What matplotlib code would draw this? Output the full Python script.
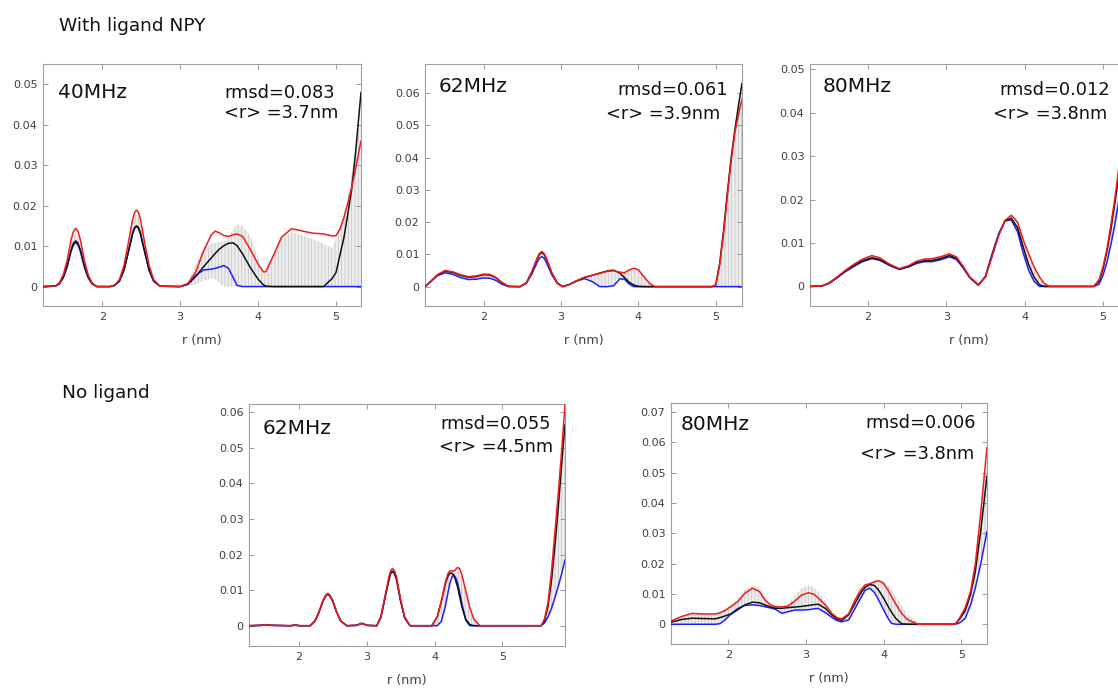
import matplotlib
matplotlib.use("Agg")
import matplotlib.pyplot as plt
from matplotlib.ticker import FuncFormatter

W, H = 1118, 689

# ---------------- with ligand NPY, 40 MHz ----------------
w40_r = [1.24, 1.40, 1.45, 1.50, 1.55, 1.60, 1.63, 1.66, 1.69, 1.72, 1.77, 1.82, 1.87, 1.93,
         2.10, 2.16, 2.22, 2.28, 2.34, 2.39, 2.415, 2.44, 2.465, 2.49, 2.54, 2.60, 2.66, 2.74,
         3.00, 3.10, 3.20, 3.30, 3.40, 3.45, 3.50, 3.56, 3.62, 3.68, 3.73, 3.80,
         3.90, 4.00, 4.07, 4.10, 4.20, 4.30, 4.43, 4.55, 4.70, 4.84, 4.95, 5.00,
         5.05, 5.10, 5.15, 5.20, 5.25, 5.32]
w40_red = [0.0, 0.0002, 0.0009, 0.0029, 0.0065, 0.0115, 0.0136, 0.0144, 0.0136, 0.0115, 0.0065, 0.0029, 0.0009, 0.0,
           0.0, 0.0004, 0.0017, 0.0053, 0.0113, 0.0166, 0.0183, 0.0189, 0.0183, 0.0166, 0.0113, 0.0053, 0.0017, 0.0001,
           0.0, 0.0008, 0.0036, 0.0088, 0.0128, 0.0137, 0.0133, 0.0126, 0.0124, 0.0128, 0.0130, 0.0124,
           0.0092, 0.0055, 0.0036, 0.0037, 0.0078, 0.0122, 0.0143, 0.0138, 0.0132, 0.0130, 0.0125, 0.0126,
           0.0142, 0.0170, 0.0205, 0.0245, 0.0290, 0.0360]
w40_black = [0.0, 0.0002, 0.0007, 0.0023, 0.0051, 0.0090, 0.0107, 0.0113, 0.0107, 0.0090, 0.0051, 0.0023, 0.0007, 0.0,
             0.0, 0.0003, 0.0014, 0.0042, 0.0090, 0.0132, 0.0146, 0.0150, 0.0146, 0.0132, 0.0090, 0.0042, 0.0014, 0.0001,
             0.0, 0.0006, 0.0025, 0.0049, 0.0071, 0.0082, 0.0092, 0.0101, 0.0107, 0.0108, 0.0101, 0.0081,
             0.0047, 0.0018, 0.0004, 0.0001, 0.0, 0.0, 0.0, 0.0, 0.0, 0.0, 0.0020, 0.0035,
             0.0078, 0.0120, 0.0178, 0.0240, 0.0330, 0.0480]
w40_blue = [0.0, 0.0001, 0.0007, 0.0022, 0.0049, 0.0087, 0.0103, 0.0109, 0.0103, 0.0087, 0.0049, 0.0022, 0.0007, 0.0,
            0.0, 0.0003, 0.0013, 0.0041, 0.0089, 0.0130, 0.0144, 0.0148, 0.0144, 0.0130, 0.0089, 0.0041, 0.0013, 0.0001,
            0.0, 0.0006, 0.0028, 0.0041, 0.0043, 0.0045, 0.0048, 0.0052, 0.0045, 0.0022, 0.0003, 0.0,
            0.0, 0.0, 0.0, 0.0, 0.0, 0.0, 0.0, 0.0, 0.0, 0.0, 0.0, 0.0,
            0.0, 0.0, 0.0, 0.0, 0.0, 0.0]
w40_lo = [0.0, 0.0, 0.0005, 0.0018, 0.0042, 0.0080, 0.0095, 0.0100, 0.0095, 0.0080, 0.0042, 0.0018, 0.0005, 0.0,
          0.0, 0.0002, 0.0011, 0.0036, 0.0082, 0.0122, 0.0136, 0.0140, 0.0136, 0.0122, 0.0082, 0.0036, 0.0011, 0.0,
          0.0, 0.0002, 0.0005, 0.0015, 0.0020, 0.0018, 0.0010, 0.0, 0.0, 0.0, 0.0, 0.0,
          0.0, 0.0, 0.0, 0.0, 0.0, 0.0, 0.0, 0.0, 0.0, 0.0, 0.0, 0.0,
          0.0, 0.0, 0.0, 0.0, 0.0, 0.0]
w40_hi = [0.0, 0.0002, 0.0008, 0.0026, 0.0060, 0.0105, 0.0125, 0.0132, 0.0125, 0.0105, 0.0060, 0.0026, 0.0008, 0.0,
          0.0, 0.0004, 0.0016, 0.0050, 0.0105, 0.0155, 0.0173, 0.0178, 0.0173, 0.0155, 0.0105, 0.0050, 0.0016, 0.0001,
          0.0, 0.0010, 0.0055, 0.0095, 0.0105, 0.0108, 0.0110, 0.0112, 0.0120, 0.0142, 0.0153, 0.0150,
          0.0125, 0.0070, 0.0030, 0.0040, 0.0085, 0.0120, 0.0135, 0.0128, 0.0118, 0.0105, 0.0095, 0.0120,
          0.0145, 0.0180, 0.0220, 0.0280, 0.0340, 0.0420]

# ---------------- with ligand NPY, 62 MHz ----------------
w62_r = [1.24, 1.30, 1.40, 1.50, 1.60, 1.70, 1.80, 1.90, 2.00, 2.08, 2.16, 2.24,
         2.32, 2.47, 2.55, 2.62, 2.69, 2.72, 2.75, 2.78, 2.81, 2.88, 2.95, 3.02, 3.10, 3.20,
         3.30, 3.40, 3.50, 3.60, 3.68, 3.76, 3.82, 3.88, 3.94, 4.00, 4.08, 4.15,
         4.22, 4.95, 5.00, 5.05, 5.10, 5.15, 5.20, 5.25, 5.30, 5.34]
w62_red = [0.0, 0.0013, 0.0037, 0.0050, 0.0046, 0.0037, 0.0031, 0.0033, 0.0039, 0.0038, 0.0028, 0.0012,
           0.0001, 0.0, 0.0012, 0.0045, 0.0088, 0.0103, 0.0109, 0.0103, 0.0088, 0.0043, 0.0012, 0.0, 0.0006, 0.0018,
           0.0029, 0.0035, 0.0041, 0.0048, 0.0049, 0.0045, 0.0043, 0.0052, 0.0057, 0.0052, 0.0028, 0.0009,
           0.0, 0.0, 0.0005, 0.0065, 0.0160, 0.0280, 0.0390, 0.0480, 0.0540, 0.0580]
w62_black = [0.0, 0.0013, 0.0036, 0.0048, 0.0044, 0.0035, 0.0029, 0.0031, 0.0037, 0.0036, 0.0027, 0.0011,
             0.0001, 0.0, 0.0012, 0.0044, 0.0086, 0.0100, 0.0106, 0.0100, 0.0086, 0.0042, 0.0012, 0.0, 0.0006, 0.0018,
             0.0028, 0.0035, 0.0042, 0.0049, 0.0051, 0.0042, 0.0028, 0.0014, 0.0005, 0.0001, 0.0, 0.0,
             0.0, 0.0, 0.0005, 0.0070, 0.0170, 0.0290, 0.0400, 0.0490, 0.0570, 0.0630]
w62_blue = [0.0, 0.0012, 0.0034, 0.0043, 0.0038, 0.0028, 0.0022, 0.0023, 0.0027, 0.0026, 0.0019, 0.0007,
            0.0, 0.0, 0.0010, 0.0038, 0.0075, 0.0088, 0.0093, 0.0088, 0.0075, 0.0037, 0.0010, 0.0, 0.0006, 0.0017,
            0.0025, 0.0016, 0.0, 0.0, 0.0003, 0.0024, 0.0023, 0.0008, 0.0, 0.0, 0.0, 0.0,
            0.0, 0.0, 0.0, 0.0, 0.0, 0.0, 0.0, 0.0, 0.0, 0.0]
w62_hi = [0.0, 0.0013, 0.0037, 0.0050, 0.0046, 0.0037, 0.0031, 0.0033, 0.0039, 0.0038, 0.0028, 0.0012,
          0.0001, 0.0, 0.0012, 0.0045, 0.0088, 0.0103, 0.0109, 0.0103, 0.0088, 0.0043, 0.0012, 0.0, 0.0006, 0.0018,
          0.0029, 0.0035, 0.0042, 0.0049, 0.0051, 0.0045, 0.0043, 0.0052, 0.0057, 0.0052, 0.0028, 0.0009,
          0.0, 0.0, 0.0005, 0.0068, 0.0165, 0.0285, 0.0395, 0.0485, 0.0555, 0.0600]
w62_lo = w62_blue

# ---------------- with ligand NPY, 80 MHz ----------------
w80_r = [1.26, 1.41, 1.50, 1.60, 1.71, 1.82, 1.93, 2.05, 2.15, 2.28, 2.40, 2.52,
         2.62, 2.72, 2.82, 2.92, 3.04, 3.13, 3.21, 3.30, 3.41, 3.50, 3.59, 3.67,
         3.75, 3.83, 3.91, 3.98, 4.05, 4.12, 4.19, 4.25, 4.32, 4.88, 4.95, 5.00,
         5.05, 5.10, 5.15, 5.20, 5.25, 5.32]
w80_red = [0.0, 0.0001, 0.0008, 0.0021, 0.0037, 0.0051, 0.0063, 0.0071, 0.0066, 0.0051, 0.0041, 0.0048,
           0.0058, 0.0063, 0.0064, 0.0068, 0.0075, 0.0068, 0.0048, 0.0022, 0.0004, 0.0022, 0.0072, 0.0118,
           0.0152, 0.0164, 0.0148, 0.0108, 0.0076, 0.0045, 0.0022, 0.0007, 0.0, 0.0, 0.0015, 0.0045,
           0.0085, 0.0140, 0.0200, 0.0270, 0.0350, 0.0450]
w80_black = [0.0, 0.0001, 0.0007, 0.0020, 0.0035, 0.0048, 0.0059, 0.0066, 0.0062, 0.0049, 0.0040, 0.0046,
             0.0055, 0.0059, 0.0060, 0.0064, 0.0071, 0.0065, 0.0046, 0.0021, 0.0003, 0.0022, 0.0074, 0.0119,
             0.0151, 0.0157, 0.0135, 0.0092, 0.0051, 0.0022, 0.0004, 0.0, 0.0, 0.0, 0.0012, 0.0040,
             0.0080, 0.0130, 0.0190, 0.0250, 0.0320, 0.0410]
w80_blue = [0.0, 0.0001, 0.0007, 0.0019, 0.0034, 0.0046, 0.0057, 0.0064, 0.0060, 0.0048, 0.0039, 0.0045,
            0.0053, 0.0057, 0.0057, 0.0061, 0.0068, 0.0062, 0.0044, 0.0020, 0.0003, 0.0024, 0.0078, 0.0122,
            0.0151, 0.0153, 0.0126, 0.0078, 0.0038, 0.0012, 0.0, 0.0, 0.0, 0.0, 0.0005, 0.0025,
            0.0055, 0.0095, 0.0140, 0.0195, 0.0260, 0.0350]
w80_lo = w80_blue
w80_hi = w80_red

# ---------------- no ligand, 62 MHz ----------------
n62_r = [1.27, 1.45, 1.52, 1.60, 1.88, 1.95, 2.02, 2.17, 2.24, 2.30, 2.36, 2.40, 2.43, 2.46, 2.50,
         2.56, 2.62, 2.71, 2.85, 2.93, 3.01, 3.15, 3.21, 3.27, 3.33, 3.355, 3.38, 3.41, 3.44,
         3.50, 3.56, 3.64, 3.96, 4.04, 4.10, 4.16, 4.20, 4.23, 4.26, 4.28, 4.31, 4.34, 4.37, 4.40,
         4.46, 4.52, 4.58, 4.67, 5.57, 5.62, 5.67, 5.72, 5.77, 5.82, 5.87, 5.92]
n62_red = [0.0, 0.0001, 0.0003, 0.0001, 0.0, 0.0002, 0.0, 0.0, 0.0013, 0.0039, 0.0072, 0.0086, 0.0091, 0.0086, 0.0072,
           0.0039, 0.0013, 0.0, 0.0001, 0.0007, 0.0001, 0.0, 0.0025, 0.0082, 0.0138, 0.0155, 0.0161, 0.0155, 0.0138,
           0.0075, 0.0025, 0.0, 0.0, 0.0025, 0.0068, 0.0122, 0.0148, 0.0155, 0.0154, 0.0153, 0.0158, 0.0164, 0.0160, 0.0145,
           0.0098, 0.0050, 0.0018, 0.0, 0.0, 0.0020, 0.0065, 0.0150, 0.0260, 0.0370, 0.0490, 0.0620]
n62_black = [0.0, 0.0001, 0.0003, 0.0001, 0.0, 0.0002, 0.0, 0.0, 0.0013, 0.0038, 0.0070, 0.0084, 0.0089, 0.0084, 0.0070,
             0.0038, 0.0013, 0.0, 0.0001, 0.0007, 0.0001, 0.0, 0.0024, 0.0078, 0.0131, 0.0148, 0.0153, 0.0148, 0.0131,
             0.0071, 0.0023, 0.0, 0.0, 0.0025, 0.0068, 0.0118, 0.0140, 0.0148, 0.0147, 0.0143, 0.0128, 0.0108, 0.0082, 0.0055,
             0.0018, 0.0003, 0.0, 0.0, 0.0, 0.0015, 0.0055, 0.0125, 0.0220, 0.0330, 0.0450, 0.0565]
n62_blue = [0.0, 0.0001, 0.0002, 0.0001, 0.0, 0.0001, 0.0, 0.0, 0.0013, 0.0038, 0.0070, 0.0084, 0.0089, 0.0084, 0.0070,
            0.0038, 0.0013, 0.0, 0.0001, 0.0006, 0.0001, 0.0, 0.0023, 0.0077, 0.0130, 0.0147, 0.0152, 0.0147, 0.0130,
            0.0070, 0.0022, 0.0, 0.0, 0.0, 0.0012, 0.0055, 0.0095, 0.0122, 0.0138, 0.0142, 0.0136, 0.0120, 0.0094, 0.0065,
            0.0015, 0.0, 0.0, 0.0, 0.0, 0.0008, 0.0025, 0.0048, 0.0078, 0.0110, 0.0145, 0.0185]
n62_hi = [0.0, 0.0001, 0.0003, 0.0001, 0.0, 0.0002, 0.0, 0.0, 0.0013, 0.0039, 0.0072, 0.0086, 0.0091, 0.0086, 0.0072,
          0.0039, 0.0013, 0.0, 0.0001, 0.0007, 0.0001, 0.0, 0.0025, 0.0082, 0.0138, 0.0155, 0.0161, 0.0155, 0.0138,
          0.0075, 0.0025, 0.0, 0.0, 0.0025, 0.0068, 0.0122, 0.0145, 0.0152, 0.0151, 0.0150, 0.0155, 0.0160, 0.0156, 0.0142,
          0.0095, 0.0048, 0.0016, 0.0, 0.0, 0.0015, 0.0055, 0.0125, 0.0220, 0.0330, 0.0420, 0.0500]
n62_lo = n62_blue

# ---------------- no ligand, 80 MHz ----------------
n80_r = [1.26, 1.40, 1.53, 1.68, 1.83, 1.89, 1.96, 2.04, 2.12, 2.21, 2.31, 2.40,
         2.47, 2.54, 2.60, 2.69, 2.77, 2.86, 2.94, 3.03, 3.10, 3.16, 3.25, 3.33,
         3.40, 3.46, 3.55, 3.63, 3.70, 3.76, 3.82, 3.88, 3.93, 3.99, 4.05, 4.10,
         4.16, 4.23, 4.30, 4.36, 4.45, 4.92, 4.98, 5.05, 5.12, 5.18, 5.25, 5.33]
n80_red = [0.0011, 0.0026, 0.0036, 0.0034, 0.0034, 0.0038, 0.0046, 0.0060, 0.0075, 0.0102, 0.0119, 0.0108,
           0.0080, 0.0064, 0.0058, 0.0057, 0.0060, 0.0078, 0.0096, 0.0104, 0.0099, 0.0086, 0.0063, 0.0036,
           0.0022, 0.0018, 0.0035, 0.0080, 0.0112, 0.0130, 0.0134, 0.0140, 0.0144, 0.0137, 0.0115, 0.0091,
           0.0065, 0.0036, 0.0017, 0.0009, 0.0, 0.0, 0.0022, 0.0055, 0.0110, 0.0200, 0.0370, 0.0584]
n80_black = [0.0007, 0.0016, 0.0020, 0.0019, 0.0018, 0.0022, 0.0028, 0.0035, 0.0048, 0.0064, 0.0073, 0.0071,
             0.0064, 0.0057, 0.0053, 0.0053, 0.0055, 0.0057, 0.0059, 0.0062, 0.0065, 0.0066, 0.0052, 0.0031,
             0.0017, 0.0013, 0.0032, 0.0069, 0.0102, 0.0122, 0.0131, 0.0128, 0.0114, 0.0090, 0.0062, 0.0040,
             0.0018, 0.0002, 0.0, 0.0, 0.0, 0.0, 0.0018, 0.0045, 0.0100, 0.0175, 0.0310, 0.0490]
n80_blue = [0.0, 0.0, 0.0, 0.0, 0.0, 0.0002, 0.0015, 0.0036, 0.0052, 0.0062, 0.0064, 0.0062,
            0.0058, 0.0054, 0.0050, 0.0036, 0.0042, 0.0047, 0.0047, 0.0048, 0.0051, 0.0052, 0.0038, 0.0023,
            0.0012, 0.0008, 0.0015, 0.0052, 0.0085, 0.0112, 0.0119, 0.0105, 0.0082, 0.0052, 0.0022, 0.0003,
            0.0, 0.0, 0.0, 0.0, 0.0, 0.0, 0.0005, 0.0020, 0.0065, 0.0120, 0.0200, 0.0306]
n80_hi = [0.0011, 0.0026, 0.0034, 0.0033, 0.0033, 0.0040, 0.0052, 0.0065, 0.0085, 0.0115, 0.0128, 0.0120,
          0.0090, 0.0068, 0.0060, 0.0060, 0.0068, 0.0095, 0.0118, 0.0128, 0.0122, 0.0105, 0.0075, 0.0042,
          0.0025, 0.0020, 0.0038, 0.0082, 0.0112, 0.0130, 0.0136, 0.0142, 0.0146, 0.0142, 0.0130, 0.0115,
          0.0090, 0.0060, 0.0035, 0.0020, 0.0003, 0.0, 0.0020, 0.0055, 0.0110, 0.0200, 0.0360, 0.0560]
n80_lo = n80_blue

r_ticks = [2, 3, 4, 5]

# panel layout: pixel box (left, top, right, bottom), axis limits, annotations
panels = [
    dict(r=w40_r, lo=w40_lo, hi=w40_hi, black=w40_black, red=w40_red, blue=w40_blue,
         box=(43, 64, 361, 306), xlim=(1.24, 5.32), ylim=(-0.0048, 0.055),
         yticks=[0, 0.01, 0.02, 0.03, 0.04, 0.05],
         freq='40MHz', rmsd='rmsd=0.083', mean='<r> =3.7nm',
         freq_xy=(58, 92), rmsd_xy=(335, 93), mean_xy=(338, 113)),
    dict(r=w62_r, lo=w62_lo, hi=w62_hi, black=w62_black, red=w62_red, blue=w62_blue,
         box=(425, 64, 742, 306), xlim=(1.24, 5.34), ylim=(-0.006, 0.069),
         yticks=[0, 0.01, 0.02, 0.03, 0.04, 0.05, 0.06],
         freq='62MHz', rmsd='rmsd=0.061', mean='<r> =3.9nm',
         freq_xy=(439, 87), rmsd_xy=(728, 90), mean_xy=(720, 114)),
    dict(r=w80_r, lo=w80_lo, hi=w80_hi, black=w80_black, red=w80_red, blue=w80_blue,
         box=(810, 64, 1128, 306), xlim=(1.26, 5.32), ylim=(-0.0045, 0.0512),
         yticks=[0, 0.01, 0.02, 0.03, 0.04, 0.05],
         freq='80MHz', rmsd='rmsd=0.012', mean='<r> =3.8nm',
         freq_xy=(823, 87), rmsd_xy=(1110, 90), mean_xy=(1107, 114)),
    dict(r=n62_r, lo=n62_lo, hi=n62_hi, black=n62_black, red=n62_red, blue=n62_blue,
         box=(249, 404, 565, 646), xlim=(1.27, 5.92), ylim=(-0.0057, 0.0623),
         yticks=[0, 0.01, 0.02, 0.03, 0.04, 0.05, 0.06],
         freq='62MHz', rmsd='rmsd=0.055', mean='<r> =4.5nm',
         freq_xy=(263, 429), rmsd_xy=(551, 424), mean_xy=(553, 447)),
    dict(r=n80_r, lo=n80_lo, hi=n80_hi, black=n80_black, red=n80_red, blue=n80_blue,
         box=(671, 403, 987, 644), xlim=(1.26, 5.33), ylim=(-0.0065, 0.073),
         yticks=[0, 0.01, 0.02, 0.03, 0.04, 0.05, 0.06, 0.07],
         freq='80MHz', rmsd='rmsd=0.006', mean='<r> =3.8nm',
         freq_xy=(681, 424), rmsd_xy=(976, 423), mean_xy=(974, 454)),
]

plt.rcParams['hatch.color'] = '#c6c6c6'
plt.rcParams['hatch.linewidth'] = 0.6

fig = plt.figure(figsize=(W / 100, H / 100), dpi=100)
fig.patch.set_facecolor('white')


def fx(x):
    return x / W


def fy(y):
    return 1 - y / H


tick_fmt = FuncFormatter(lambda v, pos: '0' if abs(v) < 1e-9 else f'{v:.2f}')
line_kw = dict(lw=1.1, solid_joinstyle='round', solid_capstyle='round')

for p in panels:
    left, top, right, bottom = p['box']
    ax = fig.add_axes([fx(left), fy(bottom), (right - left) / W, (bottom - top) / H])

    # spread of the distributions as a light hatched band
    ax.fill_between(p['r'], p['lo'], p['hi'], facecolor='#eeeeee', edgecolor='#c6c6c6',
                    hatch='|||||', linewidth=0, zorder=1)
    ax.plot(p['r'], p['blue'], color='#1f1fff', zorder=3, **line_kw)
    ax.plot(p['r'], p['black'], color='#111111', zorder=4, **line_kw)
    ax.plot(p['r'], p['red'], color='#f01c1c', zorder=5, **line_kw)

    ax.set_xlim(*p['xlim'])
    ax.set_ylim(*p['ylim'])
    ax.set_xticks(r_ticks)
    ax.set_yticks(p['yticks'])
    ax.yaxis.set_major_formatter(tick_fmt)
    ax.tick_params(direction='in', top=True, right=True, length=3.5, width=0.6,
                   color='#8c8c8c', labelcolor='#404040', labelsize=8, pad=4)
    for s in ax.spines.values():
        s.set_color('#a0a0a0')
        s.set_linewidth(0.8)
    ax.set_xlabel('r (nm)', fontsize=9.2, color='#404040', labelpad=9)

    fig.text(fx(p['freq_xy'][0]), fy(p['freq_xy'][1]), p['freq'], fontsize=14.5,
             ha='left', va='center', color='#111111')
    fig.text(fx(p['rmsd_xy'][0]), fy(p['rmsd_xy'][1]), p['rmsd'], fontsize=12.8,
             ha='right', va='center', color='#111111')
    fig.text(fx(p['mean_xy'][0]), fy(p['mean_xy'][1]), p['mean'], fontsize=12.8,
             ha='right', va='center', color='#111111')

fig.text(fx(59), fy(26), 'With ligand NPY', fontsize=13.3, ha='left', va='center', color='#111111')
fig.text(fx(62), fy(393), 'No ligand', fontsize=13.3, ha='left', va='center', color='#111111')

fig.savefig('out.png', dpi=100, facecolor='white')
